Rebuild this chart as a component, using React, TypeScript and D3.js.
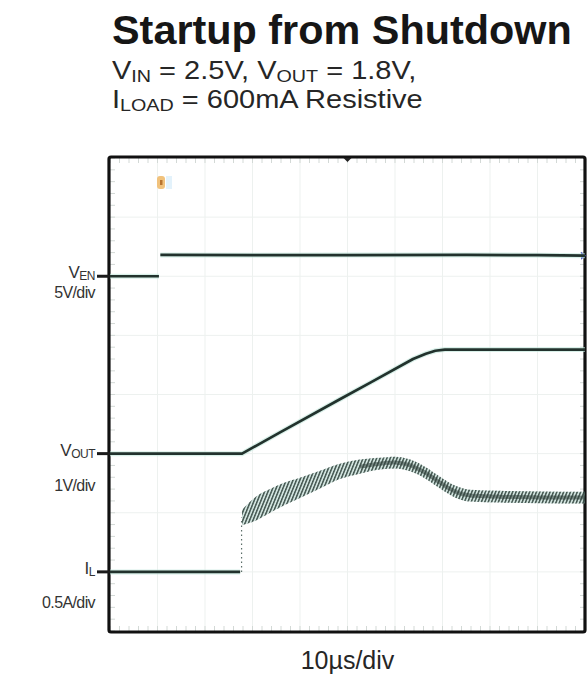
import React from 'react';
import * as d3 from 'd3';

// time axis: 10 divisions of 10us
const timeTicks = [0, 10, 20, 30, 40, 50, 60, 70, 80, 90, 100];
const divTicks = [0, 1, 2, 3, 4, 5, 6, 7, 8];

// channel set-up (ground position in divisions from bottom, units per division)
const channels = [
  { name: 'EN', sym: 'V', scale: '5V/div', ground: 6, perDiv: 5 },
  { name: 'OUT', sym: 'V', scale: '1V/div', ground: 3, perDiv: 1 },
  { name: 'L', sym: 'I', scale: '0.5A/div', ground: 1, perDiv: 0.5 },
];

// V_EN (V): low before the edge, high after it
const venLowTime = [0, 10.3];
const venLowVal = [0, 0];
const venHighTime = [10.6, 30, 50, 75, 90, 100];
const venHighVal = [1.8, 1.78, 1.79, 1.8, 1.78, 1.74];

// V_OUT (V): soft-start ramp
const voutTime = [0, 27.8, 35.8, 48.4, 55, 63.8, 66.5, 68.5, 70.5, 85, 100];
const voutVal = [0, 0, 0.36, 0.92, 1.21, 1.6, 1.69, 1.74, 1.76, 1.76, 1.76];

// I_L (A): flat, then edge, then mean current with ripple peak-peak band
const ilFlatTime = [0, 27.4];
const ilFlatVal = [0, 0];
const ilEdgeTime = 27.7;
const ilTime = [27.8, 30.5, 33.7, 36.8, 40.0, 44.2, 48.4, 52.6, 56.8, 60.0, 63.2, 66.3, 69.5, 72.6, 75.8, 82.1, 90.5, 100];
const ilMean = [0.46, 0.53, 0.6, 0.66, 0.71, 0.78, 0.85, 0.89, 0.915, 0.924, 0.9, 0.84, 0.755, 0.68, 0.645, 0.636, 0.63, 0.628];
const ilRipple = [0.13, 0.2, 0.2, 0.19, 0.17, 0.15, 0.13, 0.12, 0.1, 0.1, 0.1, 0.1, 0.1, 0.1, 0.1, 0.1, 0.1, 0.1];

const W = 587;
const H = 681;
const left = 110;
const right = 585;
const top = 158;
const bottom = 631;

const TRACE = '#22322d';
const HALO = '#bfe6da';
const FONT = '"Liberation Sans", Arial, sans-serif';

export default function App() {
  const x = d3.scaleLinear().domain([0, 100]).range([left, right]);
  const y = d3.scaleLinear().domain([0, 8]).range([bottom, top]);
  const ch = (i: number, v: number) => y(channels[i].ground + v / channels[i].perDiv);

  const line = (i: number) =>
    d3.line<[number, number]>()
      .x(d => x(d[0]))
      .y(d => ch(i, d[1]));

  const zip = (a: number[], b: number[]) => a.map((t, k) => [t, b[k]] as [number, number]);

  const venLow = line(0)(zip(venLowTime, venLowVal));
  const venHigh = line(0)(zip(venHighTime, venHighVal));
  const vout = line(1)(zip(voutTime, voutVal));
  const ilFlat = line(2)(zip(ilFlatTime, ilFlatVal));

  const ilBand = d3.area<number>()
    .x((_, k) => x(ilTime[k]))
    .y0((_, k) => ch(2, ilMean[k] - ilRipple[k] / 2))
    .y1((_, k) => ch(2, ilMean[k] + ilRipple[k] / 2))
    .curve(d3.curveMonotoneX)(ilTime);

  const lateIdx = ilTime.map((t, k) => k).filter(k => ilTime[k] >= 52);
  const ilLate = d3.line<number>()
    .x(k => x(ilTime[k]))
    .y(k => ch(2, ilMean[k]))
    .curve(d3.curveMonotoneX)(lateIdx);

  const minor = d3.range(0, 100.01, 2);
  const minorY = d3.range(0, 8.01, 0.2);

  const trace = (d: string | null, key: string) => (
    <g key={key}>
      <path d={d || ''} fill="none" stroke={HALO} strokeWidth={5} opacity={0.6} />
      <path d={d || ''} fill="none" stroke={TRACE} strokeWidth={2.7} strokeLinejoin="round" />
    </g>
  );

  return (
    <svg width={W} height={H} style={{ position: 'absolute', left: 0, top: 0, background: '#fff' }}>
      <defs>
        <pattern id="ripple" width="3.4" height="12" patternUnits="userSpaceOnUse" patternTransform="skewX(-22)">
          <rect width="1.6" height="12" fill="#2b3d37" />
        </pattern>
      </defs>

      {/* title block */}
      <g transform="translate(112,44) scale(1.035,1)">
        <text fontFamily={FONT} fontWeight="bold" fontSize={40} fill="#161616">Startup from Shutdown</text>
      </g>
      <g transform="translate(112,79) scale(1.16,1)">
        <text fontFamily={FONT} fontSize={25} fill="#262626">
          V<tspan fontSize={17} dy={2.5}>IN</tspan><tspan dy={-2.5}> = 2.5V, V</tspan>
          <tspan fontSize={17} dy={2.5}>OUT</tspan><tspan dy={-2.5}> = 1.8V,</tspan>
        </text>
      </g>
      <g transform="translate(112,108) scale(1.16,1)">
        <text fontFamily={FONT} fontSize={25} fill="#262626">
          I<tspan fontSize={17} dy={2.5}>LOAD</tspan><tspan dy={-2.5}> = 600mA Resistive</tspan>
        </text>
      </g>

      {/* grid */}
      <g stroke="#edf1ef" strokeWidth={1}>
        {timeTicks.slice(1, -1).map(t => (
          <line key={'gx' + t} x1={x(t)} x2={x(t)} y1={top} y2={bottom} />
        ))}
        {divTicks.slice(1, -1).map(d => (
          <line key={'gy' + d} x1={left} x2={right} y1={y(d)} y2={y(d)} />
        ))}
      </g>
      <g stroke="#d3d9d6" strokeWidth={1}>
        {minor.map(t => (
          <g key={'mx' + t}>
            <line x1={x(t)} x2={x(t)} y1={top} y2={top + 5} />
            <line x1={x(t)} x2={x(t)} y1={bottom - 5} y2={bottom} />
          </g>
        ))}
        {minorY.map(d => (
          <g key={'my' + d}>
            <line x1={left} x2={left + 5} y1={y(d)} y2={y(d)} />
            <line x1={right - 5} x2={right} y1={y(d)} y2={y(d)} />
          </g>
        ))}
      </g>

      {/* frame */}
      <rect x={left - 1} y={top - 1} width={right - left + 1} height={bottom - top + 2} fill="none" stroke="#111" strokeWidth={3.2} rx={2} />

      {/* small scope markers */}
      <rect x={157} y={176} width={8} height={13} rx={3} fill="#f1c27c" />
      <rect x={160} y={180} width={2.5} height={5} fill="#b8742e" />
      <rect x={166} y={176} width={6} height={13} fill="#e3f2fb" />
      <path d={`M${right - 4},${ch(0, 1.74) - 4} L${right + 1},${ch(0, 1.74)} L${right - 4},${ch(0, 1.74) + 4} Z`} fill="#4a55c8" />
      <path d={`M${x(50) - 4},${top} L${x(50) + 4},${top} L${x(50)},${top + 4} Z`} fill="#222" />

      {/* ground markers and channel labels */}
      {channels.map((c, i) => (
        <g key={c.name}>
          <line x1={97} x2={left} y1={y(c.ground)} y2={y(c.ground)} stroke="#1b1b1b" strokeWidth={3} />
          <text x={95} y={y(c.ground) + 2} textAnchor="end" fontFamily={FONT} fontSize={17} fill="#333" letterSpacing={-0.5}>
            {c.sym}<tspan fontSize={12} dy={2}>{c.name}</tspan>
          </text>
          <text x={95} y={y(c.ground) + (i === 2 ? 36 : i === 1 ? 37 : 22)} textAnchor="end" fontFamily={FONT} fontSize={16} fill="#333" letterSpacing={-0.6}>
            {c.scale}
          </text>
        </g>
      ))}

      {/* traces */}
      {trace(venLow, 'venLow')}
      {trace(venHigh, 'venHigh')}
      {trace(vout, 'vout')}
      {trace(ilFlat, 'ilFlat')}
      <line x1={x(ilEdgeTime)} x2={x(ilEdgeTime)} y1={ch(2, 0)} y2={ch(2, ilMean[0])} stroke="#5b6e68" strokeWidth={1.2} strokeDasharray="1.5 3" />
      <path d={ilBand || ''} fill="#9cc4b8" opacity={0.45} />
      <path d={ilBand || ''} fill="url(#ripple)" opacity={0.85} />
      <path d={ilLate || ''} fill="none" stroke="#2b3d37" strokeWidth={4} opacity={0.55} />

      {/* time base */}
      <text x={(left + right) / 2} y={669} textAnchor="middle" fontFamily={FONT} fontSize={25} fill="#262626">10µs/div</text>
    </svg>
  );
}
